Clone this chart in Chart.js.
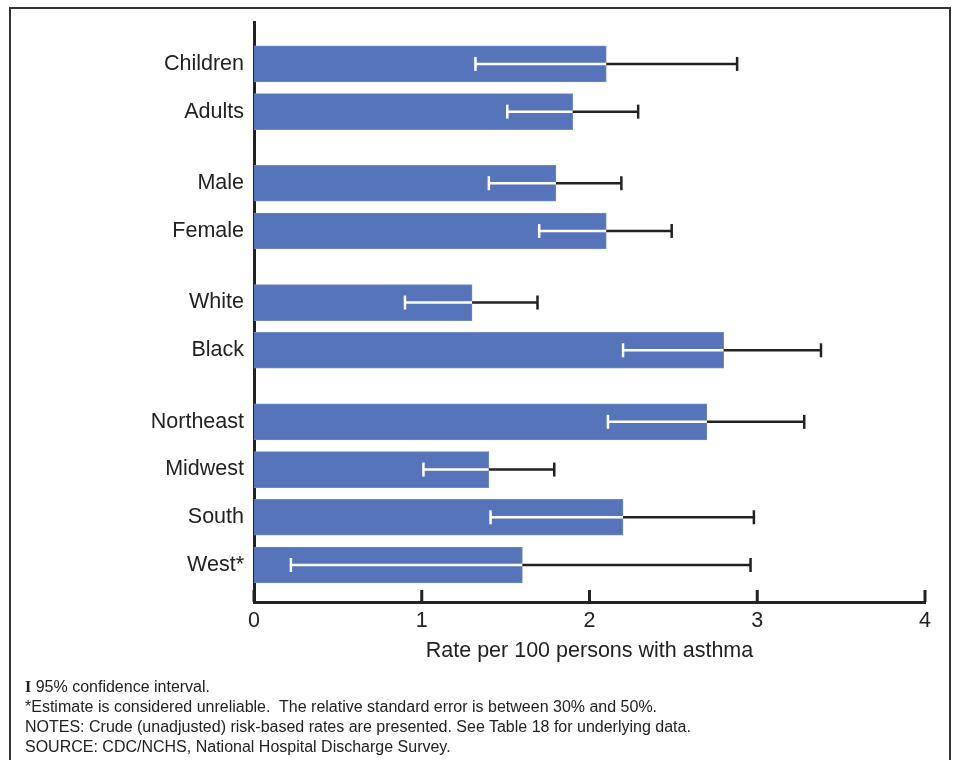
<!DOCTYPE html>
<html><head><meta charset="utf-8">
<script src="https://cdn.jsdelivr.net/npm/chart.js@4"></script>
<style>
html,body{margin:0;padding:0;background:#fff;}
#wrap{position:relative;width:956px;height:760px;overflow:hidden;font-family:'Liberation Sans',Arial,sans-serif;}
#frame{position:absolute;left:9px;top:7px;width:942px;height:800px;border:2px solid #333;box-sizing:border-box;}
#notes{position:absolute;left:25px;top:677px;font-size:16px;line-height:20px;color:#222;white-space:nowrap;}
#notes .ci{font-family:'Liberation Serif','DejaVu Serif',serif;font-weight:bold;}
canvas{position:absolute;left:0;top:0;}
</style></head>
<body>
<div id="wrap">
<div id="frame"></div>
<canvas id="c" width="956" height="760"></canvas>
<div id="notes">
<div><span class="ci">I</span> 95% confidence interval.</div>
<div>*Estimate is considered unreliable.&nbsp; The relative standard error is between 30% and 50%.</div>
<div>NOTES: Crude (unadjusted) risk-based rates are presented. See Table 18 for underlying data.</div>
<div>SOURCE: CDC/NCHS, National Hospital Discharge Survey.</div>
</div>
</div>
<script>
// ---- data ----
const groups = [
  ['Children', 'Adults'],
  ['Male', 'Female'],
  ['White', 'Black'],
  ['Northeast', 'Midwest', 'South', 'West*']
];
const categories = groups.flat();
const rates  = [2.1, 1.9, 1.8, 2.1, 1.3, 2.8, 2.7, 1.4, 2.2, 1.6];
const ciLow  = [1.32, 1.51, 1.40, 1.70, 0.90, 2.20, 2.11, 1.01, 1.41, 0.22];
const ciHigh = [2.88, 2.29, 2.19, 2.49, 1.69, 3.38, 3.28, 1.79, 2.98, 2.96];
const xTicks = [0, 1, 2, 3, 4];
const xTitle = 'Rate per 100 persons with asthma';

// ---- layout helpers (slot positions derived from group structure) ----
const slotPos = [];
(function(){ let p = -2; groups.forEach((g, gi) => { if (gi > 0) p += 1; g.forEach(() => { p += 2; slotPos.push(p); }); }); })();
const labelAt = {};
slotPos.forEach((p, i) => { labelAt[p] = categories[i]; });

const BAR = '#5674B9';
const INK = '#222222';
const FONT = "'Liberation Sans', Arial, sans-serif";

const errorBars = {
  id: 'errorBars',
  afterDatasetsDraw(chart) {
    const ctx = chart.ctx, xs = chart.scales.x, ys = chart.scales.y;
    ctx.save();
    ctx.lineWidth = 2.5;
    rates.forEach((v, i) => {
      const y = ys.getPixelForValue(slotPos[i]);
      const xl = xs.getPixelForValue(ciLow[i]);
      const xv = xs.getPixelForValue(v);
      const xh = xs.getPixelForValue(ciHigh[i]);
      ctx.strokeStyle = '#ffffff';
      ctx.beginPath(); ctx.moveTo(xl, y); ctx.lineTo(Math.min(xv, xh), y); ctx.stroke();
      ctx.beginPath(); ctx.moveTo(xl, y - 7); ctx.lineTo(xl, y + 7); ctx.stroke();
      ctx.strokeStyle = INK;
      ctx.beginPath(); ctx.moveTo(xv, y); ctx.lineTo(xh, y); ctx.stroke();
      ctx.beginPath(); ctx.moveTo(xh, y - 7); ctx.lineTo(xh, y + 7); ctx.stroke();
    });
    ctx.restore();
  }
};

const upTicks = {
  id: 'upTicks',
  afterDraw(chart) {
    const ctx = chart.ctx, xs = chart.scales.x, b = chart.chartArea.bottom;
    ctx.save();
    ctx.strokeStyle = INK; ctx.lineWidth = 3;
    xs.ticks.forEach(t => {
      const x = xs.getPixelForValue(t.value);
      ctx.beginPath(); ctx.moveTo(x, b - 12); ctx.lineTo(x, b); ctx.stroke();
    });
    ctx.restore();
  }
};

new Chart(document.getElementById('c'), {
  type: 'bar',
  data: {
    datasets: [{
      data: rates.map((v, i) => ({ x: v, y: slotPos[i] })),
      backgroundColor: BAR,
      borderColor: '#7089C6',
      borderWidth: 1,
      barThickness: 36
    }]
  },
  options: {
    indexAxis: 'y',
    responsive: false,
    animation: false,
    layout: { padding: { top: 22, right: 31, bottom: 96, left: 0 } },
    plugins: { legend: { display: false }, tooltip: { enabled: false } },
    scales: {
      x: {
        type: 'linear', min: 0, max: 4,
        afterBuildTicks: s => { s.ticks = xTicks.map(v => ({ value: v })); },
        grid: { display: false, drawTicks: false },
        border: { display: true, color: INK, width: 3 },
        ticks: { color: INK, font: { family: FONT, size: 21.5 }, padding: 6 },
        title: { display: true, text: xTitle, color: INK, font: { family: FONT, size: 21.5 }, padding: { top: 0, bottom: 0 } },
        afterFit: s => { s.height = 62; }
      },
      y: {
        type: 'linear', reverse: true, min: -1.72, max: 22.55, offset: false,
        afterBuildTicks: s => { s.ticks = slotPos.map(v => ({ value: v })); },
        grid: { display: false, drawTicks: false },
        border: { display: true, color: INK, width: 3 },
        ticks: { color: INK, font: { family: FONT, size: 21.5 }, padding: 10, autoSkip: false,
                 callback: v => labelAt[v] ?? '' },
        afterFit: s => { s.width = 254; }
      }
    }
  },
  plugins: [errorBars, upTicks]
});
</script>
</body></html>
